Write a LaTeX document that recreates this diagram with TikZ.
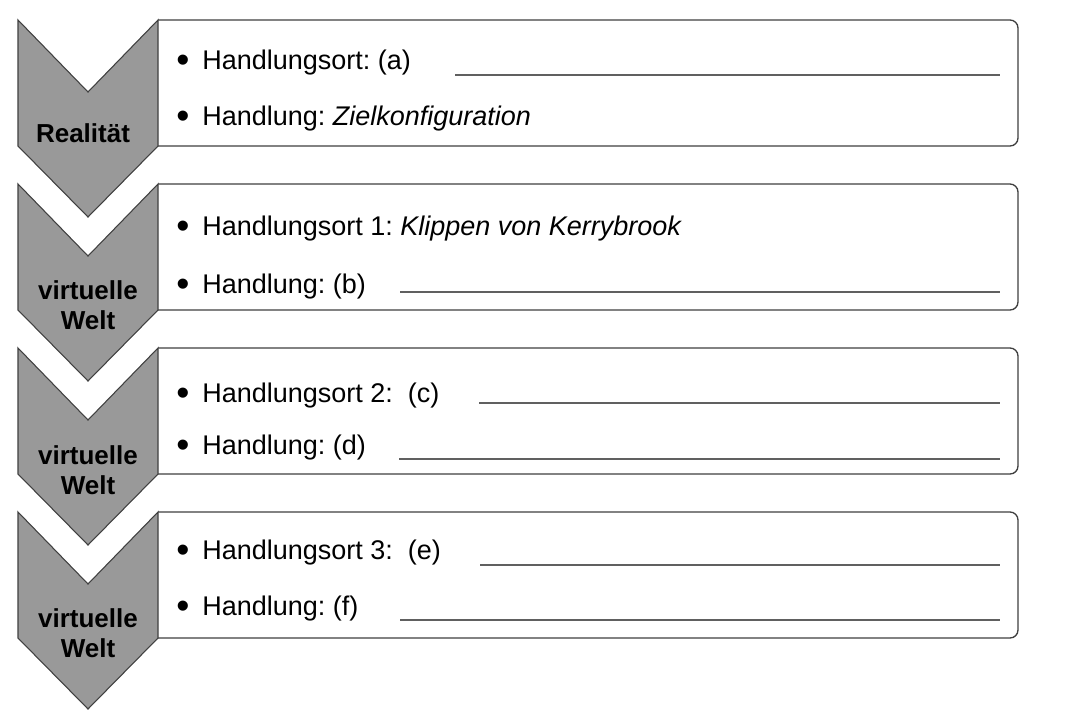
\documentclass[tikz,border=0pt]{standalone}
\usepackage{fontspec}
\setmainfont{Liberation Sans}
\frenchspacing
\definecolor{chevfill}{HTML}{999999}
\definecolor{edge}{HTML}{404040}
\definecolor{uline}{HTML}{606060}
\tikzset{
  chev/.style={fill=chevfill,draw=edge,line width=0.8pt,line join=miter},
  panel/.style={draw=edge,line width=1pt,rounded corners=6pt},
  itemtxt/.style={anchor=base west,inner sep=0pt,font=\fontsize{20.25}{24}\selectfont},
  bul/.style={anchor=base,inner sep=0pt,font=\fontsize{28}{30}\selectfont},
  chevlbl/.style={anchor=base,inner sep=0pt,font=\fontsize{19.5}{22.5}\selectfont\bfseries},
  fillline/.style={draw=uline,line width=1pt}
}
\begin{document}
\begin{tikzpicture}[x=0.75pt,y=-0.75pt]
\useasboundingbox[fill=white] (0,0) rectangle (1068,726);
% panels and chevrons
\foreach \t in {20,184,348,512}{
  \draw[panel] (158,\t) -- (1018,\t) -- (1018,\t+126) -- (158,\t+126);
  \draw[chev] (18,\t) -- (88,\t+72) -- (158,\t) -- (158,\t+126) -- (88,\t+197) -- (18,\t+126) -- cycle;
}
% chevron labels
\node[chevlbl] (l1) at (83,142) {Realität};
\node[chevlbl] (l2a) at (88,299) {virtuelle};
\node[chevlbl] (l2b) at (88,329) {Welt};
\node[chevlbl] (l3a) at (88,464) {virtuelle};
\node[chevlbl] (l3b) at (88,494) {Welt};
\node[chevlbl] (l4a) at (88,627) {virtuelle};
\node[chevlbl] (l4b) at (88,657) {Welt};
% box 1
\node[bul] (b1a) at (183,72) {•};
\node[itemtxt] (t1a) at (202,69) {Handlungsort: (a)};
\node[bul] (b1b) at (183,128) {•};
\node[itemtxt] (t1b) at (202,125) {Handlung: \textit{Zielkonfiguration}};
\coordinate (u1s) at (455,75); \coordinate (u1e) at (1000,75);
\draw[fillline] (u1s) -- (u1e);
% box 2
\node[bul] (b2a) at (183,238) {•};
\node[itemtxt] (t2a) at (202,235) {Handlungsort 1: \textit{Klippen von Kerrybrook}};
\node[bul] (b2b) at (183,296) {•};
\node[itemtxt] (t2b) at (202,293) {Handlung: (b)};
\coordinate (u2s) at (400,292); \coordinate (u2e) at (1000,292);
\draw[fillline] (u2s) -- (u2e);
% box 3
\node[bul] (b3a) at (183,405) {•};
\node[itemtxt] (t3a) at (202,402) {Handlungsort 2:\ \ (c)};
\node[bul] (b3b) at (183,457) {•};
\node[itemtxt] (t3b) at (202,454) {Handlung: (d)};
\coordinate (u3s) at (479,403); \coordinate (u3e) at (1000,403);
\draw[fillline] (u3s) -- (u3e);
\coordinate (u3t) at (399,459); \coordinate (u3f) at (1000,459);
\draw[fillline] (u3t) -- (u3f);
% box 4
\node[bul] (b4a) at (183,562) {•};
\node[itemtxt] (t4a) at (202,559) {Handlungsort 3:\ \ (e)};
\node[bul] (b4b) at (183,618) {•};
\node[itemtxt] (t4b) at (202,615) {Handlung: (f)};
\coordinate (u4s) at (480,565); \coordinate (u4e) at (1000,565);
\draw[fillline] (u4s) -- (u4e);
\coordinate (u4t) at (400,620); \coordinate (u4f) at (1000,620);
\draw[fillline] (u4t) -- (u4f);
\end{tikzpicture}
\end{document}
